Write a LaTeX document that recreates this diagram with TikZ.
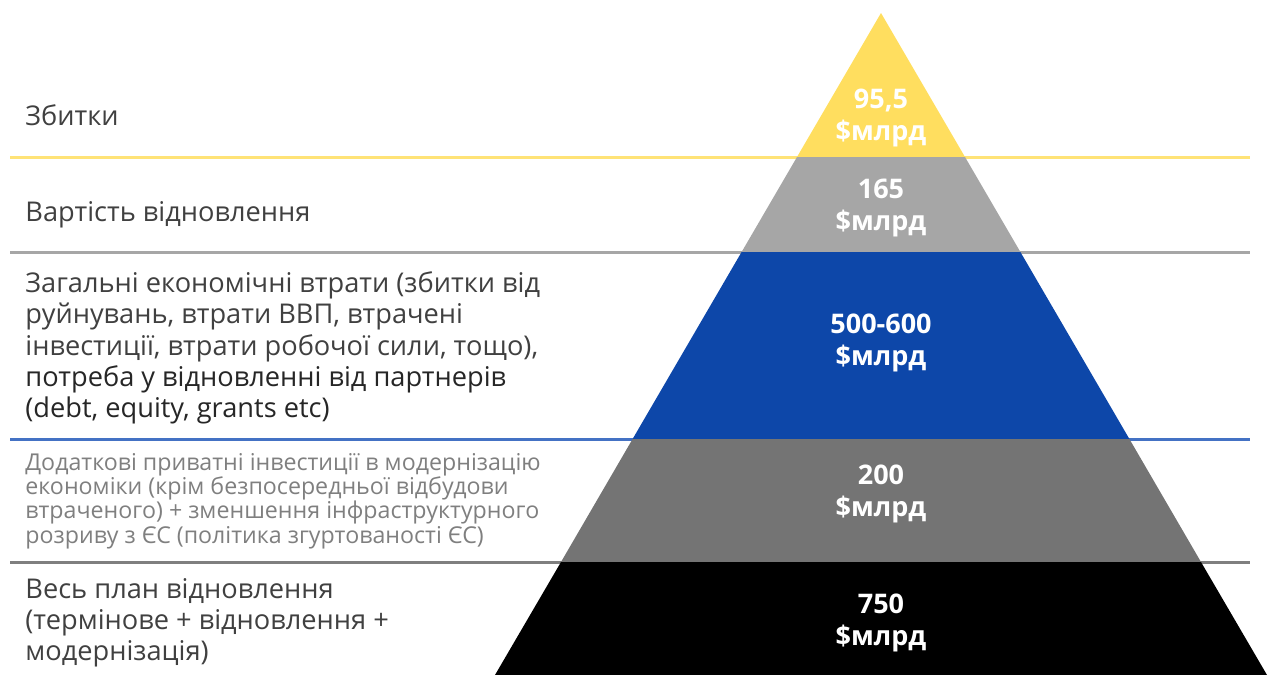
\documentclass[tikz,border=0pt]{standalone}
\usepackage{fontspec}
\setmainfont{Open Sans}
\usetikzlibrary{positioning}
\definecolor{lossyellow}{HTML}{FFDE5F}
\definecolor{rebuildgray}{HTML}{A6A6A6}
\definecolor{econblue}{HTML}{0D47A9}
\definecolor{lineblue}{HTML}{4472C4}
\definecolor{extragray}{HTML}{747474}
\definecolor{labelgray}{HTML}{404040}
\definecolor{smallgray}{HTML}{7F7F7F}
\tikzset{
  sep/.style={line width=1.5pt},
  band/.style={draw=none},
  label/.style={anchor=west, align=left, text=labelgray, inner sep=0pt,
    font=\fontsize{13.6}{15.6}\selectfont},
  value/.style={align=center, text=white, inner sep=0pt,
    font=\bfseries\fontsize{13.5}{16}\selectfont}
}
\begin{document}
\begin{tikzpicture}[x=0.5pt,y=-0.5pt]
	\useasboundingbox (0,0) rectangle (1275,675);
	% separator lines
	\foreach \y/\c in {157/lossyellow!85, 252/rebuildgray, 439/lineblue, 562/smallgray}{
		\coordinate (sepL-\y) at (10,\y);
		\coordinate (sepR-\y) at (1250,\y);
		\draw[sep, \c] (sepL-\y) -- (sepR-\y);
	}
	% pyramid
	\coordinate (apex) at (881,13);
	\fill[band, lossyellow] (apex) -- (965,157) -- (797,157) -- cycle;
	\fill[band, rebuildgray] (797,157) -- (965,157) -- (1020.4,252) -- (741.6,252) -- cycle;
	\fill[band, econblue] (741.6,252) -- (1020.4,252) -- (1129.4,439) -- (632.6,439) -- cycle;
	\fill[band, extragray] (632.6,439) -- (1129.4,439) -- (1201,562) -- (561,562) -- cycle;
	\fill[band, black] (561,562) -- (1201,562) -- (1267,675) -- (495,675) -- cycle;
	% values
	\node[value] (loss-val) at (881,118) {95,5\\\$млрд};
	\node[value] (rebuild-val) at (881,208) {165\\\$млрд};
	\node[value] (econ-val) at (881,343) {500-600\\\$млрд};
	\node[value] (extra-val) at (881,494) {200\\\$млрд};
	\node[value] (plan-val) at (881,623) {750\\\$млрд};
	% labels
	\node[label] (loss) at (25,115) {Збитки};
	\node[label] (rebuild) at (25,215) {Вартість відновлення};
	\node[label] (econ) at (25,348) {Загальні економічні втрати (збитки від\\
		руйнувань, втрати ВВП, втрачені\\
		інвестиції, втрати робочої сили, тощо),\\
		\textcolor{black!85}{потреба у відновленні від партнерів}\\
		\textcolor{black!85}{(debt, equity, grants etc)}};
	\node[label, text=smallgray, font=\fontsize{11.6}{12.1}\selectfont] (extra) at (25,501)
		{Додаткові приватні інвестиції в модернізацію\\
		економіки (крім безпосередньої відбудови\\
		втраченого) + зменшення інфраструктурного\\
		розриву з ЄС (політика згуртованості ЄС)};
	\node[label] (plan) at (25,623) {Весь план відновлення\\
		(термінове + відновлення +\\
		модернізація)};
\end{tikzpicture}
\end{document}
